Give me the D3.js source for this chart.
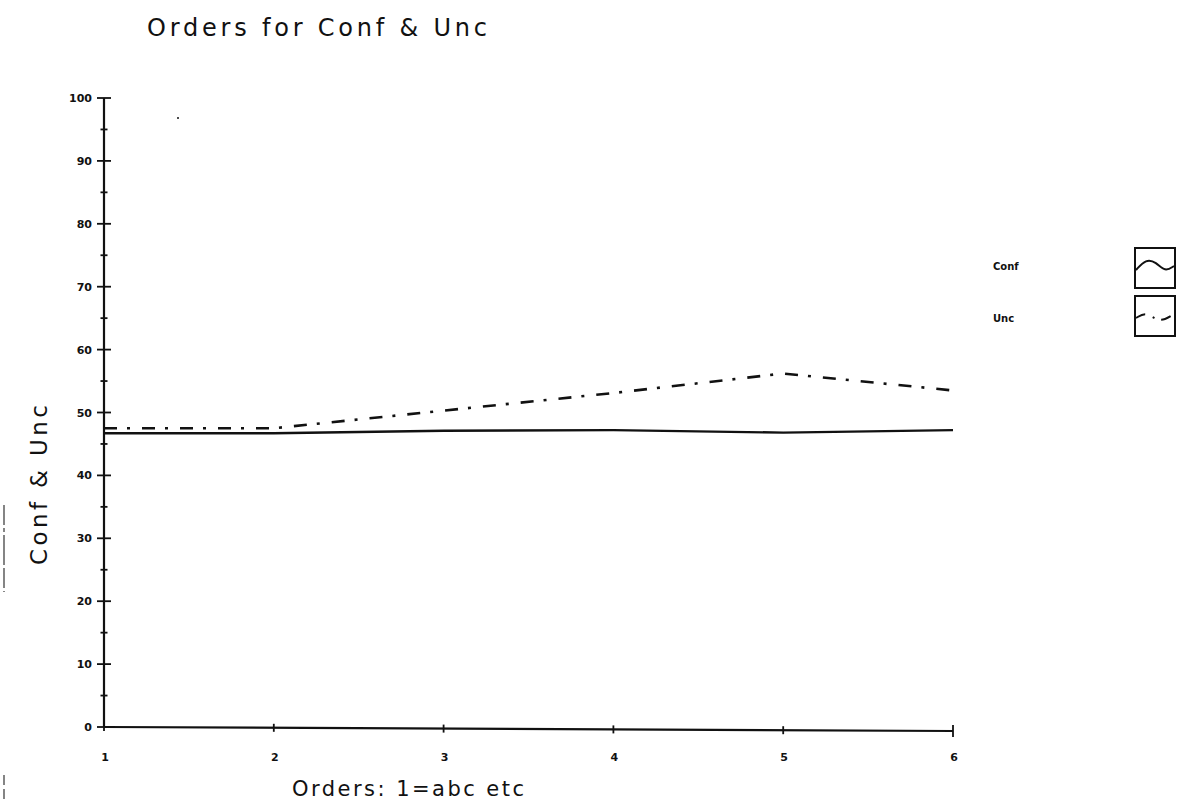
<!DOCTYPE html>
<html>
<head>
<meta charset="utf-8">
<script src="https://cdn.jsdelivr.net/npm/d3@7"></script>
<style>
  html, body { margin: 0; padding: 0; background: #fff; }
  svg { display: block; }
  .plotter { font-family: "DejaVu Sans", "Liberation Sans", sans-serif; font-weight: normal; fill: #111; }
  .tick-label { font-family: "DejaVu Sans", sans-serif; font-weight: bold; font-size: 11px; fill: #111; }
</style>
</head>
<body>
<svg id="chart" width="1178" height="805"></svg>
<script>
// Order positions along the x axis
const orders = [1, 2, 3, 4, 5, 6];
// Series values per order
const confValues = [46.7, 46.7, 47.1, 47.2, 46.8, 47.2];
const uncValues = [47.5, 47.5, 50.3, 53.1, 56.2, 53.5];
// Axis tick labels
const yTickValues = [0, 10, 20, 30, 40, 50, 60, 70, 80, 90, 100];
const xTickValues = [1, 2, 3, 4, 5, 6];
const seriesNames = ["Conf", "Unc"];

const svg = d3.select("#chart");
const ink = "#111";

const x = d3.scaleLinear().domain([1, 6]).range([104, 953]);
const y = d3.scaleLinear().domain([0, 100]).range([727, 98]);

// Title
svg.append("text").attr("class", "plotter")
  .attr("x", 147).attr("y", 36)
  .attr("textLength", 340).attr("lengthAdjust", "spacing")
  .style("font-size", "24px")
  .text("Orders for Conf & Unc");

// Y axis: long ticks at tens, short ticks at fives
const yAxis = svg.append("g");
yAxis.append("line")
  .attr("x1", x(1)).attr("x2", x(1))
  .attr("y1", y(0)).attr("y2", y(100))
  .attr("stroke", ink).attr("stroke-width", 2.2);
d3.range(0, 101, 5).forEach(v => {
  const major = v % 10 === 0;
  const half = major ? 7 : 3.5;
  yAxis.append("line")
    .attr("x1", x(1) - half).attr("x2", x(1) + half)
    .attr("y1", y(v)).attr("y2", y(v))
    .attr("stroke", ink).attr("stroke-width", 1.8);
});
yAxis.selectAll("text.tick-label").data(yTickValues).join("text")
  .attr("class", "tick-label")
  .attr("x", 92).attr("y", d => y(d) + 4)
  .attr("text-anchor", "end")
  .text(d => d);

// X axis
const xAxis = svg.append("g");
xAxis.append("line")
  .attr("x1", x(1)).attr("x2", x(6))
  .attr("y1", y(0)).attr("y2", y(0) + 4)
  .attr("stroke", ink).attr("stroke-width", 2.2);
xTickValues.forEach((v, i) => {
  const yy = y(0) + 4 * (v - 1) / 5;
  const end = i === xTickValues.length - 1;
  xAxis.append("line")
    .attr("x1", x(v)).attr("x2", x(v))
    .attr("y1", yy - (end ? 6 : 4)).attr("y2", yy + (end ? 6 : 4))
    .attr("stroke", ink).attr("stroke-width", 1.8);
});
xAxis.selectAll("text.tick-label").data(xTickValues).join("text")
  .attr("class", "tick-label")
  .attr("x", d => x(d) + 1).attr("y", 761)
  .attr("text-anchor", "middle")
  .text(d => d);

// Axis titles
svg.append("text").attr("class", "plotter")
  .attr("x", 292).attr("y", 796)
  .attr("textLength", 232).attr("lengthAdjust", "spacing")
  .style("font-size", "21px")
  .text("Orders: 1=abc etc");
svg.append("text").attr("class", "plotter")
  .attr("transform", "translate(47,565) rotate(-90)")
  .attr("textLength", 160).attr("lengthAdjust", "spacing")
  .style("font-size", "23px")
  .text("Conf & Unc");

// Series lines
const line = d3.line().x((d, i) => x(orders[i])).y(d => y(d));
svg.append("path").datum(confValues)
  .attr("d", line).attr("fill", "none")
  .attr("stroke", ink).attr("stroke-width", 2.4);
svg.append("path").datum(uncValues)
  .attr("d", line).attr("fill", "none")
  .attr("stroke", ink).attr("stroke-width", 2.6)
  .attr("stroke-dasharray", "13,10,3,12");

// Legend
const legend = svg.append("g");
const legendRows = [{ name: seriesNames[0], ty: 270, by: 248 }, { name: seriesNames[1], ty: 322, by: 296 }];
legendRows.forEach(r => {
  legend.append("text").attr("class", "tick-label")
    .attr("x", 993).attr("y", r.ty).style("font-size", "10px")
    .text(r.name);
  legend.append("rect")
    .attr("x", 1135).attr("y", r.by).attr("width", 40).attr("height", 40)
    .attr("fill", "none").attr("stroke", ink).attr("stroke-width", 2);
});
const wave = d3.line().curve(d3.curveBasis);
legend.append("path")
  .attr("d", wave([[1136, 270], [1146, 259], [1156, 262], [1165, 272], [1174, 266]]))
  .attr("fill", "none").attr("stroke", ink).attr("stroke-width", 2);
legend.append("path")
  .attr("d", wave([[1136, 318], [1146, 312], [1156, 320], [1165, 320], [1174, 314]]))
  .attr("fill", "none").attr("stroke", ink).attr("stroke-width", 2)
  .attr("stroke-dasharray", "10,8,2,7");

// Stray plotter marks
svg.append("circle").attr("cx", 178).attr("cy", 118).attr("r", 1).attr("fill", ink);
svg.append("line").attr("x1", 4).attr("x2", 4).attr("y1", 505).attr("y2", 592)
  .attr("stroke", "#444").attr("stroke-width", 1.3).attr("stroke-dasharray", "20,3,4,3,30,3");
svg.append("line").attr("x1", 4).attr("x2", 4).attr("y1", 775).attr("y2", 800)
  .attr("stroke", "#444").attr("stroke-width", 1.3).attr("stroke-dasharray", "10,4");
</script>
</body>
</html>
